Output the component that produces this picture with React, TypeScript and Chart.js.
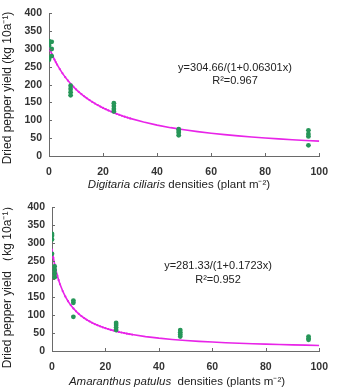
import { useEffect, useRef } from 'react';
import { Chart, registerables } from 'chart.js';

Chart.register(...registerables);

const FONT = "Arial, 'Liberation Sans', sans-serif";
const GREEN = 'rgb(38, 150, 88)';
const MAGENTA = 'rgb(232, 36, 232)';
const AXIS = '#6a6a6a';
const TEXT = '#222';

const densityTicks = [0, 20, 40, 60, 80, 100];
const yieldTicks = [0, 50, 100, 150, 200, 250, 300, 350, 400];

// Densities at which the fitted hyperbola is evaluated
const fitDensities = [
  0, 0.5, 1, 1.5, 2, 2.5, 3, 4, 5, 6, 7, 8, 9, 10, 11, 12, 13, 14, 15, 16, 17, 18, 19, 20,
  21, 22, 23, 24, 25, 26, 27, 28, 29, 30, 35, 40, 45, 50, 55, 60, 65, 70, 75, 80, 85, 90, 95, 100,
];

// Digitaria ciliaris plots
const digitariaDensity = [0, 0, 0, 0, 0, 1, 1, 1, 8, 8, 8, 8, 24, 24, 24, 24, 48, 48, 48, 48, 96, 96, 96, 96];
const digitariaYield = [322, 315, 310, 275, 270, 320, 300, 280, 197, 188, 179, 170, 148, 140, 132, 125, 75, 70, 65, 58, 72, 62, 55, 30];
const digitariaFit = { a: 304.66, b: 0.06301, r2: '0.967' };

// Amaranthus patulus plots
const amaranthusDensity = [0, 0, 0, 0, 1, 1, 1, 1, 8, 8, 8, 24, 24, 24, 24, 48, 48, 48, 48, 96, 96, 96];
const amaranthusYield = [325, 320, 310, 270, 235, 225, 215, 205, 140, 134, 95, 78, 72, 65, 58, 58, 52, 46, 40, 40, 35, 31];
const amaranthusFit = { a: 281.33, b: 0.1723, r2: '0.952' };

type Panel = {
  density: number[];
  yieldKg: number[];
  fit: { a: number; b: number; r2: string };
  yTitle: string;
  species: string;
  unitText: string;
  height: number;
  left: number;
  right: number;
  top: number;
  bottom: number;
  eq: [number, number];
  r2At: [number, number];
  xTitleAt: [number, number];
  yTitleAt: [number, number];
};

const panels: Panel[] = [
  {
    density: digitariaDensity,
    yieldKg: digitariaYield,
    fit: digitariaFit,
    yTitle: 'Dried pepper yield (kg 10a\u207B\u00B9)',
    species: 'Digitaria ciliaris',
    unitText: ' densities (plant m\u207B\u00B2)',
    height: 193,
    left: 49,
    right: 322,
    top: 7,
    bottom: 156,
    eq: [235, 68],
    r2At: [235, 81],
    xTitleAt: [179, 185],
    yTitleAt: [8, 88],
  },
  {
    density: amaranthusDensity,
    yieldKg: amaranthusYield,
    fit: amaranthusFit,
    yTitle: 'Dried pepper yield \uFF08kg 10a\u207B\u00B9\uFF09',
    species: 'Amaranthus patulus',
    unitText: '  densities (plants m\u207B\u00B2)',
    height: 194,
    left: 52,
    right: 325,
    top: 14,
    bottom: 158,
    eq: [218, 73],
    r2At: [218, 87],
    xTitleAt: [177, 189],
    yTitleAt: [8, 91],
  },
];

function makeOverlay(p: Panel) {
  return {
    id: 'panelOverlay',
    afterDraw(chart: Chart) {
      const { ctx } = chart;
      const x = chart.scales.x;
      const y = chart.scales.y;
      ctx.save();
      ctx.strokeStyle = AXIS;
      ctx.lineWidth = 1;
      // tick marks pointing into the plot area
      for (const t of yieldTicks) {
        const py = Math.round(y.getPixelForValue(t)) + 0.5;
        ctx.beginPath();
        ctx.moveTo(x.left, py);
        ctx.lineTo(x.left + 3, py);
        ctx.stroke();
      }
      for (const t of densityTicks) {
        const px = Math.round(x.getPixelForValue(t)) + 0.5;
        ctx.beginPath();
        ctx.moveTo(px, y.bottom);
        ctx.lineTo(px, y.bottom - 3);
        ctx.stroke();
      }

      ctx.fillStyle = TEXT;
      ctx.textBaseline = 'middle';
      ctx.textAlign = 'center';
      ctx.font = `11px ${FONT}`;
      ctx.fillText(`y=${p.fit.a}/(1+${p.fit.b}x)`, p.eq[0], p.eq[1]);
      ctx.fillText(`R\u00B2=${p.fit.r2}`, p.r2At[0], p.r2At[1]);

      // x-axis title: italic species name followed by plain text
      ctx.textAlign = 'left';
      const italic = `italic 11.5px ${FONT}`;
      const plain = `11.5px ${FONT}`;
      ctx.font = italic;
      const w1 = ctx.measureText(p.species).width;
      ctx.font = plain;
      const w2 = ctx.measureText(p.unitText).width;
      const startX = p.xTitleAt[0] - (w1 + w2) / 2;
      ctx.font = italic;
      ctx.fillText(p.species, startX, p.xTitleAt[1]);
      ctx.font = plain;
      ctx.fillText(p.unitText, startX + w1, p.xTitleAt[1]);

      // y-axis title
      ctx.save();
      ctx.translate(p.yTitleAt[0], p.yTitleAt[1]);
      ctx.rotate(-Math.PI / 2);
      ctx.textAlign = 'center';
      ctx.font = `12px ${FONT}`;
      ctx.fillText(p.yTitle, 0, 0);
      ctx.restore();

      ctx.restore();
    },
  };
}

function buildConfig(p: Panel): any {
  const observed = p.density.map((d, i) => ({ x: d, y: p.yieldKg[i] }));
  const fitted = fitDensities.map((d) => ({ x: d, y: p.fit.a / (1 + p.fit.b * d) }));
  const tickFont = { family: FONT, size: 10.5, weight: 'bold' as const };
  return {
    type: 'scatter',
    data: {
      datasets: [
        {
          data: observed,
          backgroundColor: GREEN,
          borderColor: GREEN,
          borderWidth: 0,
          pointRadius: 2.4,
          order: 0,
        },
        {
          type: 'line',
          data: fitted,
          borderColor: MAGENTA,
          borderWidth: 1.6,
          backgroundColor: MAGENTA,
          pointRadius: fitted.map((pt) => (pt.x <= 30 ? 1.1 : 0)),
          pointBorderWidth: 0,
          tension: 0,
          fill: false,
          order: 1,
        },
      ],
    },
    options: {
      animation: false,
      responsive: false,
      devicePixelRatio: 1,
      events: [],
      layout: { padding: { top: p.top, right: 338 - p.right, left: 0, bottom: 0 } },
      plugins: { legend: { display: false }, tooltip: { enabled: false } },
      scales: {
        x: {
          type: 'linear',
          min: 0,
          max: 100,
          afterBuildTicks: (s: any) => {
            s.ticks = densityTicks.map((v) => ({ value: v }));
          },
          ticks: { font: tickFont, color: '#333', padding: 10, maxRotation: 0 },
          grid: { drawOnChartArea: false, drawTicks: false },
          border: { color: AXIS, width: 1 },
          afterFit: (s: any) => {
            s.height = p.height - p.bottom;
          },
        },
        y: {
          type: 'linear',
          min: 0,
          max: 400,
          afterBuildTicks: (s: any) => {
            s.ticks = yieldTicks.map((v) => ({ value: v }));
          },
          ticks: { font: tickFont, color: '#333', padding: 7 },
          grid: { drawOnChartArea: false, drawTicks: false },
          border: { color: AXIS, width: 1 },
          afterFit: (s: any) => {
            s.width = p.left;
          },
        },
      },
    },
    plugins: [makeOverlay(p)],
  };
}

function PanelChart({ p, offset }: { p: Panel; offset: number }) {
  const ref = useRef<HTMLCanvasElement>(null);
  useEffect(() => {
    const chart = new Chart(ref.current as HTMLCanvasElement, buildConfig(p));
    return () => chart.destroy();
  }, [p]);
  return (
    <canvas
      ref={ref}
      width={338}
      height={p.height}
      style={{ position: 'absolute', left: 0, top: offset, width: 338, height: p.height }}
    />
  );
}

export default function App() {
  return (
    <div style={{ position: 'absolute', left: 0, top: 0, width: 338, height: 387, background: '#fff', overflow: 'hidden' }}>
      <PanelChart p={panels[0]} offset={0} />
      <PanelChart p={panels[1]} offset={panels[0].height} />
    </div>
  );
}
